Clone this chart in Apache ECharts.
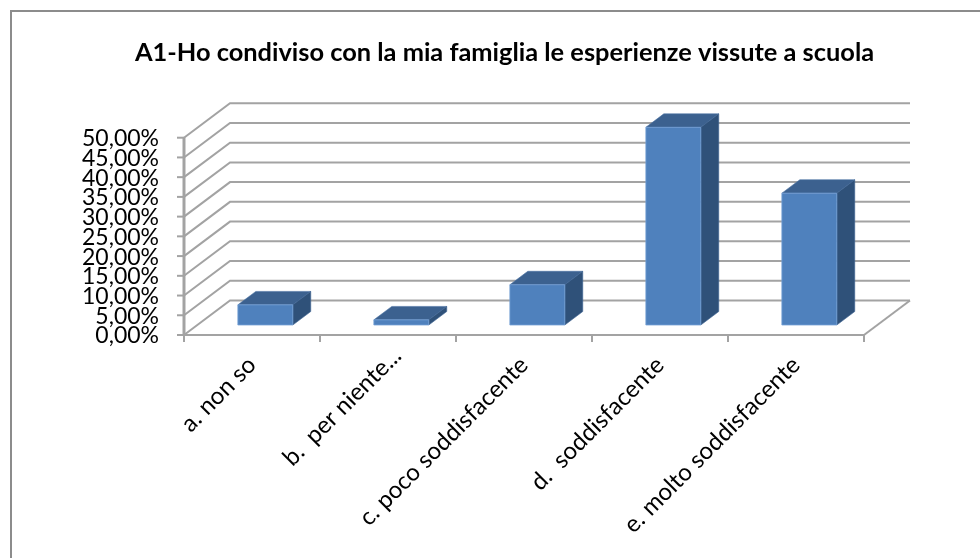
<!DOCTYPE html>
<html>
<head>
<meta charset="utf-8">
<style>
  html, body { margin: 0; padding: 0; background: #fff; }
  #main { width: 980px; height: 558px; }
</style>
<script src="https://cdn.jsdelivr.net/npm/echarts@6/dist/echarts.min.js"></script>
</head>
<body>
<div id="main"></div>
<script>
var titleText = 'A1-Ho condiviso con la mia famiglia le esperienze vissute a scuola';
var categories = ['a. non so', 'b.  per niente...', 'c. poco soddisfacente', 'd.  soddisfacente', 'e. molto soddisfacente'];
var values = [5.1, 1.3, 10.2, 50.1, 33.4];
var yTicks = [0, 5, 10, 15, 20, 25, 30, 35, 40, 45, 50];

var fontName = 'Lato';
var lineColor = '#a3a3a3';
// depth of the fake 3d box, in pixels
var depthX = 46;
var depthY = 34.5;
var barRatio = 0.404;
var barInset = 0.29;
var barDepth = 0.39;

function formatPercent(v) {
  return v.toFixed(2).replace('.', ',') + '%';
}

// walls plus the y ticks and labels: the axis drops the tick next to min/max when labels are this tight
function renderWall(params, api) {
  var c = api.coord([0, api.value(0)]);
  var band = api.size([1, 0])[0];
  var x0 = c[0] - band / 2;
  var x1 = x0 + band * categories.length;
  var y = c[1];
  var pts = [[x0, y], [x0 + depthX, y - depthY], [x1 + depthX, y - depthY]];
  var children = [
    {
      type: 'polyline',
      shape: { points: pts },
      style: { fill: null, stroke: lineColor, lineWidth: 2 }
    },
    {
      type: 'line',
      shape: { x1: x0 - 7, y1: y, x2: x0, y2: y },
      style: { stroke: lineColor, lineWidth: 2 }
    },
    {
      type: 'text',
      style: {
        text: formatPercent(api.value(0)),
        x: x0 - 25,
        y: y + 1,
        textAlign: 'right',
        textVerticalAlign: 'middle',
        fontFamily: fontName,
        fontSize: 23,
        fill: '#000'
      }
    }
  ];
  if (api.value(0) === 0) {
    // right edge of the floor and the front vertical edge
    children.push({
      type: 'line',
      shape: { x1: x1, y1: y, x2: x1 + depthX, y2: y - depthY },
      style: { stroke: lineColor, lineWidth: 2 }
    });
    children.push({
      type: 'line',
      shape: { x1: x0, y1: y, x2: x0, y2: api.coord([0, yTicks[yTicks.length - 1]])[1] },
      style: { stroke: lineColor, lineWidth: 3 }
    });
  }
  return { type: 'group', children: children };
}

function renderBar(params, api) {
  var idx = api.value(0);
  var top = api.coord([idx, api.value(1)]);
  var base = api.coord([idx, 0]);
  var band = api.size([1, 0])[0];
  var w = band * barRatio;
  var ox = depthX * barInset;
  var oy = depthY * barInset;
  var dx = depthX * barDepth;
  var dy = depthY * barDepth;
  var l = top[0] + ox - w / 2;
  var r = l + w;
  var t = top[1] - oy;
  var b = base[1] - oy;
  return {
    type: 'group',
    children: [
      {
        type: 'polygon',
        shape: { points: [[l, t], [r, t], [r + dx, t - dy], [l + dx, t - dy]] },
        style: { fill: '#3c618f', stroke: '#4a72a3', lineWidth: 0.6 }
      },
      {
        type: 'polygon',
        shape: { points: [[r, t], [r + dx, t - dy], [r + dx, b - dy], [r, b]] },
        style: { fill: '#2f5179', stroke: '#3f6594', lineWidth: 0.6 }
      },
      {
        type: 'rect',
        shape: { x: l, y: t, width: w, height: b - t },
        style: { fill: '#4f81bd', stroke: '#75a0d6', lineWidth: 0.8 }
      }
    ]
  };
}

// the truncated label sits further along its slant than the others
var categoryData = categories.map(function (name, i) {
  return i === 1 ? { value: name, textStyle: { padding: [0, -13, 0, 0] } } : { value: name };
});

var chart = echarts.init(document.getElementById('main'), null, { renderer: 'canvas' });
chart.setOption({
  animation: false,
  backgroundColor: '#fff',
  title: {
    text: titleText,
    left: 499.5,
    top: 35,
    textAlign: 'center',
    textStyle: { fontFamily: fontName, fontWeight: 'bold', fontSize: 25.4, color: '#000' }
  },
  graphic: [{
    type: 'polyline',
    shape: { points: [[11, 558], [11, 11], [980, 11]] },
    style: { fill: null, stroke: '#8c8c8c', lineWidth: 2 },
    silent: true
  }],
  grid: { left: 184, top: 137.7, width: 680, height: 197.3 },
  xAxis: {
    type: 'category',
    data: categoryData,
    z: 5,
    axisLine: { lineStyle: { color: lineColor, width: 2 } },
    axisTick: { show: true, alignWithLabel: false, length: 7, lineStyle: { color: lineColor, width: 2 } },
    axisLabel: {
      interval: 0,
      rotate: 45,
      margin: 26,
      fontFamily: fontName,
      fontSize: 24,
      color: '#000'
    },
    splitLine: { show: false }
  },
  yAxis: {
    type: 'value',
    min: 0,
    max: 50,
    interval: 5,
    axisLine: { show: false },
    axisTick: { show: false },
    axisLabel: { show: false },
    splitLine: { show: false }
  },
  series: [
    {
      type: 'custom',
      name: 'pareti',
      renderItem: renderWall,
      data: yTicks.map(function (v) { return [v]; }),
      encode: { y: 0 },
      silent: true,
      clip: false,
      z: 1
    },
    {
      type: 'custom',
      name: 'A1',
      renderItem: renderBar,
      data: values.map(function (v, i) { return [i, v]; }),
      encode: { x: 0, y: 1 },
      clip: false,
      z: 2
    }
  ]
});
</script>
</body>
</html>
